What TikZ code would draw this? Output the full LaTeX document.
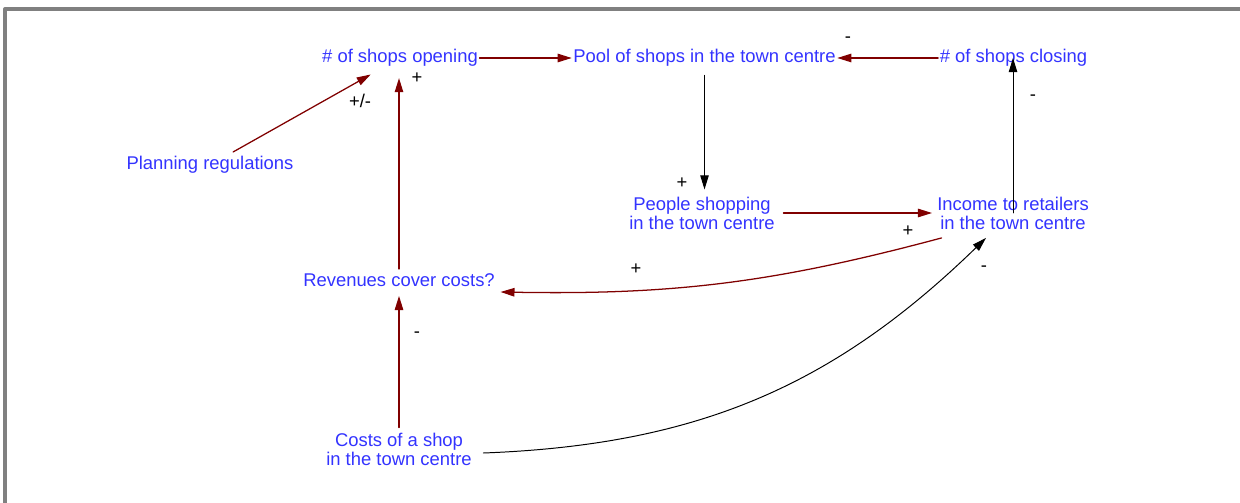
\documentclass[tikz,border=0pt]{standalone}
\usepackage{fontspec}
\setmainfont{Liberation Sans}
\usepackage{tikz}
\usetikzlibrary{calc}
\usetikzlibrary{arrows.meta}
\definecolor{ttttff}{rgb}{0.2,0.2,1.}
\definecolor{zqqqqq}{rgb}{0.5,0.,0.}
\definecolor{zzzzzz}{rgb}{0.5,0.5,0.5}
\tikzset{var/.style={text=ttttff,inner sep=1pt,align=center,font=\fontsize{13.1}{13.5}\selectfont},
  sgn/.style={text=black,inner sep=0pt,font=\fontsize{13.1}{13.5}\selectfont},
  link/.style={->,line width=0.9pt,color=zqqqqq},
  blk/.style={->,line width=0.7pt,color=black}}

\begin{document}
\begin{tikzpicture}[line cap=round,line join=round,>={Triangle[length=10pt,width=6pt]},x=0.025cm,y=-0.025cm]
\clip(0,0) rectangle (1240,503);
\draw [line width=2.8pt,color=zzzzzz] (5,520) -- (5,9) -- (1260,9);
% stocks and flows
\node [var] (open) at (400,58) {\# of shops opening};
\node [var] (pool) at (704.5,58) {Pool of shops in the town centre};
\node [var] (close) at (1013.5,58) {\# of shops closing};
\node [var] (plan) at (210,165) {Planning regulations};
\node [var] (people) at (702,213) {People shopping\\in the town centre};
\node [var] (income) at (1013,213) {Income to retailers\\in the town centre};
\node [var] (revenue) at (399,280) {Revenues cover costs?};
\node [var] (costs) at (399,449) {Costs of a shop\\in the town centre};
% causal links
\draw [link] (open.east) -- (pool.west);
\draw [link] (close.west) -- (pool.east);
\draw [blk,shorten <=5pt,shorten >=4pt] (pool.south) -- (pool.south |- people.north);
\draw [link,shorten <=5pt,shorten >=2.5pt] (people.east) -- (income.west);
\draw [blk] (income.center) -- (income.center |- close.center);
\draw [link,shorten <=4pt,shorten >=9pt] (plan) -- (open);
\draw [link,shorten <=2pt,shorten >=7pt] (revenue.north) -- (revenue.north |- open.south);
\draw [link,shorten <=2.5pt,shorten >=5.5pt] (costs.north) -- (revenue.south);
\draw [link] ($(income.south west)+(6,7)$) to [bend left=8] ($(revenue.east)+(4,12)$);
\draw [blk] ($(costs.east)+(10,4)$) to [bend right=21] ($(income.south)+(-27,7)$);
% polarities
\node [sgn] (s1) at (360,101) {+/-};
\node [sgn] (s2) at (417,78) {+};
\node [sgn] (s3) at (848,40) {-};
\node [sgn] (s4) at (682,183) {+};
\node [sgn] (s5) at (908,231) {+};
\node [sgn] (s6) at (1033,98) {-};
\node [sgn] (s7) at (636,269) {+};
\node [sgn] (s8) at (417,335) {-};
\node [sgn] (s9) at (984,269) {-};
\end{tikzpicture}
\end{document}
